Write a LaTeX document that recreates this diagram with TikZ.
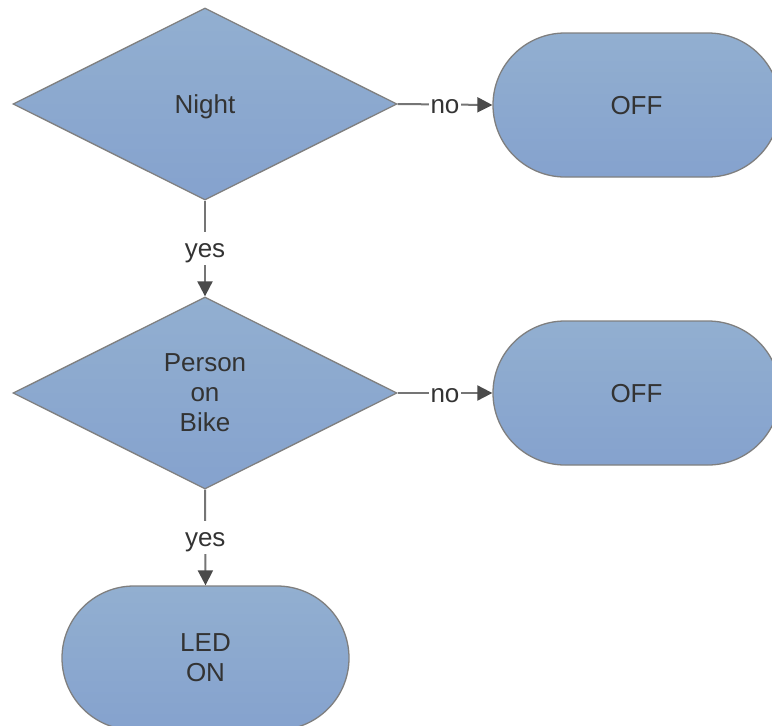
\documentclass[tikz,border=0pt]{standalone}
\usepackage{fontspec}
\setmainfont{Liberation Sans}
\usetikzlibrary{shapes.geometric,arrows.meta}
\definecolor{boxtop}{HTML}{92AFD0}
\definecolor{boxbot}{HTML}{85A2CE}
\definecolor{edgegray}{HTML}{7F7F7F}
\definecolor{txtgray}{HTML}{333333}
\definecolor{linegray}{HTML}{757575}
\definecolor{tipgray}{HTML}{4A4A4A}
\tikzset{
  decision/.style={diamond, draw=edgegray, line width=1.3pt, top color=boxtop, bottom color=boxbot,
    minimum width=384pt, minimum height=192pt, inner sep=0pt, aspect=2,
    text=txtgray, font=\fontsize{26}{30}\selectfont, align=center},
  terminal/.style={rectangle, rounded corners=72pt, draw=edgegray, line width=1.3pt, top color=boxtop, bottom color=boxbot,
    minimum width=287pt, minimum height=144pt, inner sep=0pt,
    text=txtgray, font=\fontsize{26}{30}\selectfont, align=center},
  oneline/.style={text height=23.5pt, text depth=5pt},
  flow/.style={draw=linegray, line width=2pt, -{Triangle[length=15pt,width=15pt,color=tipgray]}},
  lbl/.style={fill=white, inner sep=2pt, text=txtgray, font=\fontsize{26}{30}\selectfont, oneline}
}
\begin{document}
\begin{tikzpicture}[x=1pt,y=-1pt]
\path[use as bounding box] (0,0) rectangle (772,726);
\clip (0,0) rectangle (772,726);
\node[decision, oneline] (night) at (205,104) {Night};
\node[terminal, oneline] (off1) at (636.5,105) {OFF};
\node[decision] (person) at (205,393) {Person\\on\\Bike};
\node[terminal, oneline] (off2) at (636.5,393) {OFF};
\node[terminal] (led) at (205.5,658) {LED\\ON};
\draw[flow] (night.east) -- node[lbl] {no} (off1.west);
\draw[flow] (night.south) -- node[lbl] {yes} (person.north);
\draw[flow] (person.east) -- node[lbl] {no} (off2.west);
\draw[flow] (person.south) -- node[lbl] {yes} (led.north);
\end{tikzpicture}
\end{document}
